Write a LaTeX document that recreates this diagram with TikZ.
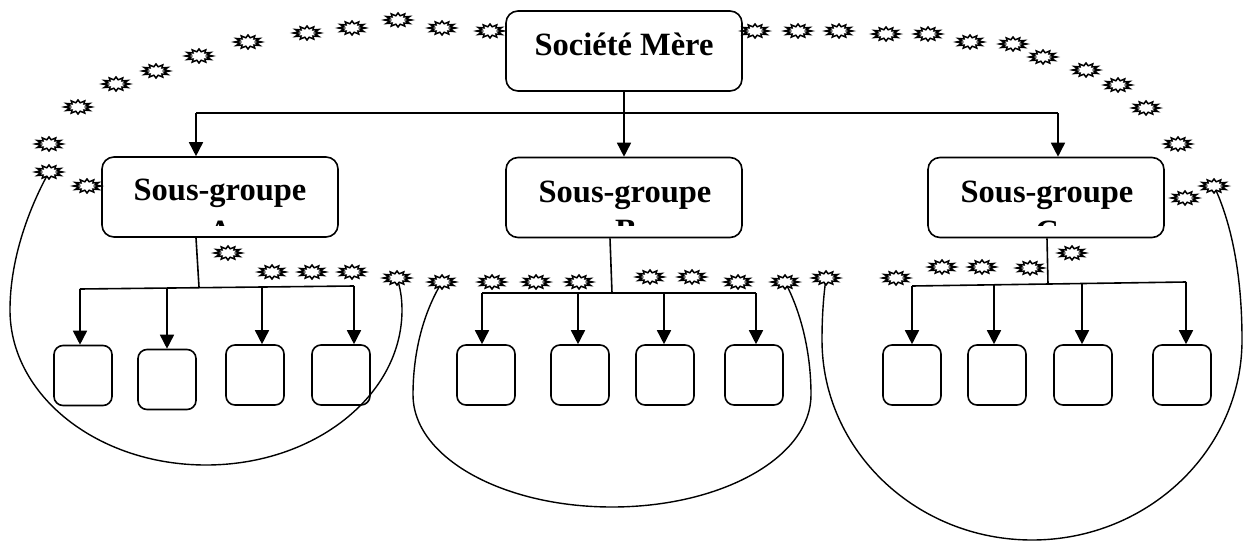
\documentclass[tikz,border=0pt]{standalone}
\usepackage{fontspec}
\setmainfont{Liberation Serif}
\usetikzlibrary{arrows.meta,calc}
\begin{document}
\begin{tikzpicture}[x=1pt,y=-1pt,
 big/.style={draw,line width=1.6pt,rounded corners=12pt,inner sep=0pt,minimum width=236pt,minimum height=80pt},
 small/.style={draw,line width=1.6pt,rounded corners=9pt,minimum width=58pt,minimum height=60pt,inner sep=0pt},
 conn/.style={line width=1.6pt},
 arr/.style={conn,-{Triangle[width=14pt,length=14pt]}},
 curve/.style={line width=1.4pt},
 lbl/.style={font=\fontsize{32.5}{38}\selectfont\bfseries,inner sep=0pt,anchor=base},
 burst/.pic={\draw[line width=1.5pt,fill=white,line join=miter,xscale=13.5,yscale=7] (0:1)
   \foreach \a in {15,45,...,345}{ -- (\a:0.62) -- ({\a+15}:1)} -- cycle;}
]
\useasboundingbox (0,0) rectangle (1244,546);

% main boxes
\node[big] (sm) at (624,51) {};
\node[big] (sgA) at (220,197) {};
\node[big] (sgB) at (624,197.5) {};
\node[big] (sgC) at (1046,197.5) {};

\node[lbl] (tsm) at (624,55) {Société Mère};
\node[lbl] (tA) at (220,200) {Sous-groupe};
\node[lbl] (tB) at (625,202) {Sous-groupe};
\node[lbl] (tC) at (1047,202) {Sous-groupe};
\begin{scope}
 \clip (102,157) rectangle (338,225);
 \node[lbl] (tA2) at (220,242) {A};
\end{scope}
\begin{scope}
 \clip (506,157) rectangle (742,225);
 \node[lbl] (tB2) at (626,241.5) {B};
\end{scope}
\begin{scope}
 \clip (928,157) rectangle (1164,225);
 \node[lbl] (tC2) at (1047,242) {C};
\end{scope}

% small boxes
\node[small] (a1) at (83,375.5) {};
\node[small] (a2) at (167,379.5) {};
\node[small] (a3) at (255,375) {};
\node[small] (a4) at (341,375) {};
\node[small] (b1) at (486,375) {};
\node[small] (b2) at (580,375) {};
\node[small] (b3) at (665,375) {};
\node[small] (b4) at (754,375) {};
\node[small] (c1) at (912,375) {};
\node[small] (c2) at (997,375) {};
\node[small] (c3) at (1083,375) {};
\node[small] (c4) at (1182,375) {};

% top connectors
\coordinate (busL) at (196,113);
\coordinate (busM) at (624,113);
\coordinate (busR) at (1058,113);
\draw[conn] (sm.south) -- (busM);
\draw[conn] (busL) -- (busR);
\draw[arr] (busL) -- (busL |- sgA.north);
\draw[arr] (busM) -- (sgB.north);
\draw[arr] (busR) -- (busR |- sgC.north);

% group A
\coordinate (jA0) at (196,0);
\coordinate (jA) at (199,287);
\coordinate (xa1) at (80,289);
\coordinate (xa2) at (167,288);
\coordinate (xa3) at (262,287);
\coordinate (xa4) at (354,286);
\draw[conn] (sgA.south -| jA0) -- (jA);
\draw[conn] (xa1) -- (xa4);
\draw[arr] (xa1) -- (xa1 |- a1.north);
\draw[arr] (xa2) -- (xa2 |- a2.north);
\draw[arr] (xa3) -- (xa3 |- a3.north);
\draw[arr] (xa4) -- (xa4 |- a4.north);

% group B
\coordinate (jB0) at (610,0);
\coordinate (jB) at (612,293);
\coordinate (xb1) at (482,293);
\coordinate (xb2) at (578,293);
\coordinate (xb3) at (664,293);
\coordinate (xb4) at (756,293);
\draw[conn] (sgB.south -| jB0) -- (jB);
\draw[conn] (xb1) -- (xb4);
\draw[arr] (xb1) -- (xb1 |- b1.north);
\draw[arr] (xb2) -- (xb2 |- b2.north);
\draw[arr] (xb3) -- (xb3 |- b3.north);
\draw[arr] (xb4) -- (xb4 |- b4.north);

% group C
\coordinate (jC0) at (1047,0);
\coordinate (jC) at (1048,284.5);
\coordinate (xc1) at (912,286);
\coordinate (xc2) at (994,285);
\coordinate (xc3) at (1082,284);
\coordinate (xc4) at (1186,282);
\draw[conn] (sgC.south -| jC0) -- (jC);
\draw[conn] (xc1) -- (xc4);
\draw[arr] (xc1) -- (xc1 |- c1.north);
\draw[arr] (xc2) -- (xc2 |- c2.north);
\draw[arr] (xc3) -- (xc3 |- c3.north);
\draw[arr] (xc4) -- (xc4 |- c4.north);

% star anchor coordinates
\coordinate (t1) at (49,172);
\coordinate (l5) at (397,278);
\coordinate (l6) at (442,282);
\coordinate (l13) at (785,282);
\coordinate (l14) at (826,278);
\coordinate (t26) at (1214,186);

% big curves
\draw[curve] (t1) .. controls (28,210) and (10,260) .. (10,310)
  .. controls (10,395.6) and (97.7,465) .. (206,465)
  .. controls (314.3,465) and (402,395.6) .. (402,310)
  .. controls (402,297) and (400,287) .. (l5);
\draw[curve] (l6) .. controls (422,315) and (413,355) .. (413,395)
  .. controls (413,457) and (502,507) .. (612,507)
  .. controls (722,507) and (811,457) .. (811,395)
  .. controls (811,350) and (800,310) .. (l13);
\draw[curve] (l14) .. controls (823,300) and (822,320) .. (822,340)
  .. controls (822,450) and (916,540) .. (1032,540)
  .. controls (1148,540) and (1242,450) .. (1242,340)
  .. controls (1242,270) and (1230,220) .. (t26);

% bursts
\foreach \x/\y in {49/172,49/144,78/107,116/84,156/71,199/56,248/42,307/33,352/28,398/20,442/28,490/31,
  755/31,798/31,839/31,886/34,928/34,970/42,1013/44,1043/57,1086/70,1118/85,1146/108,1178/144,1185/198,1214/186,
  87/186,
  228/253,272/272,312/272,352/272,397/278,442/282,492/282,536/282,579/282,650/277,692/277,738/282,785/282,
  826/278,896/278,942/267,982/267,1030/268,1072/253}
  \pic at (\x,\y) {burst};
\end{tikzpicture}
\end{document}
